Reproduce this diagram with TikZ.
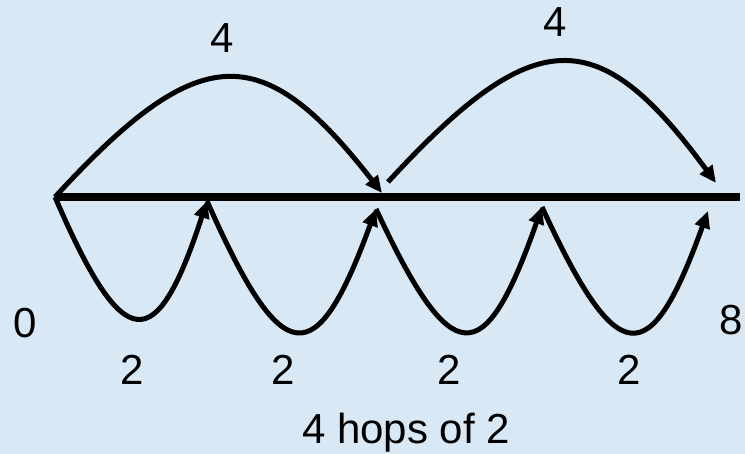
\documentclass[tikz,border=0pt]{standalone}
\usepackage{fontspec}
\setmainfont{Liberation Sans}
\usepackage{tikz}
\usetikzlibrary{arrows.meta}
\usepackage{xcolor}
\definecolor{paper}{HTML}{D8E8F5}
\definecolor{ink}{HTML}{000000}
\tikzset{
  numline/.style={draw=ink,line width=8.5pt},
  jump/.style={-{Triangle[length=17pt,width=15pt]},draw=ink,line width=5pt},
  hop/.style={-{Triangle[length=17pt,width=15pt]},draw=ink,line width=5pt},
  numlbl/.style={font=\fontsize{42}{42}\selectfont,anchor=base,inner sep=0pt,text=ink}
}

\begin{document}
\begin{tikzpicture}[x=1pt,y=-1pt]
      \fill[paper] (0,0) rectangle (745,454);
      \useasboundingbox (0,0) rectangle (745,454);
      % the number line
      \coordinate (zero) at (55,197);
      \coordinate (lineend) at (740,197);
      \draw[numline] (zero)--(lineend);
      % two jumps of 4
      \coordinate (jA) at (382,193);
      \coordinate (jB) at (388,182);
      \coordinate (jC) at (716,183);
      \draw[jump] (zero) .. controls (200,39) and (262,39) .. (jA);
      \draw[jump] (jB) .. controls (535,22) and (598,22) .. (jC);
      % four hops of 2
      \coordinate (hA) at (207,201);
      \coordinate (hB) at (376,209);
      \coordinate (hC) at (542,207);
      \coordinate (hD) at (708,211);
      \draw[hop] (zero) .. controls (124,357) and (156,357) .. (hA);
      \draw[hop] (hA) .. controls (283,373) and (316,373) .. (hB);
      \draw[hop] (hB) .. controls (452,372) and (484,372) .. (hC);
      \draw[hop] (hC) .. controls (618,372) and (650,372) .. (hD);
      % labels
      \node[numlbl] (fourA) at (222,53) {4};
      \node[numlbl] (fourB) at (555,37) {4};
      \node[numlbl] (nzero) at (25,338) {0};
      \node[numlbl] (neight) at (731,335) {8};
      \node[numlbl] (twoA) at (132,385) {2};
      \node[numlbl] (twoB) at (283,385) {2};
      \node[numlbl] (twoC) at (449,385) {2};
      \node[numlbl] (twoD) at (629,385) {2};
      \node[numlbl] (caption) at (406,444) {4 hops of 2};
    \end{tikzpicture}
\end{document}
